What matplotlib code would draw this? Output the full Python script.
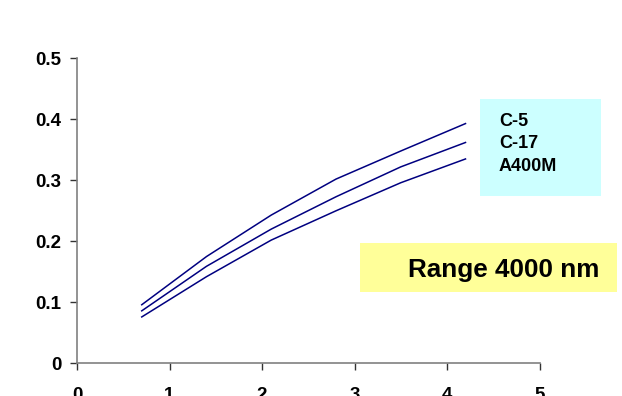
import matplotlib
matplotlib.use("Agg")
import matplotlib.pyplot as plt
from matplotlib.patches import Rectangle

plt.rcParams["font.family"] = ["Liberation Sans", "DejaVu Sans"]
plt.rcParams["font.weight"] = "bold"

# dados
x = [0.7, 1.4, 2.1, 2.8, 3.5, 4.2]
c5 = [0.096, 0.175, 0.243, 0.302, 0.348, 0.393]
c17 = [0.086, 0.159, 0.220, 0.273, 0.322, 0.362]
a400m = [0.076, 0.142, 0.202, 0.250, 0.296, 0.335]
nomes = ["C-5", "C-17", "A400M"]

W, H = 622, 396
fig = plt.figure(figsize=(W / 100, H / 100), dpi=100)
ax = fig.add_axes([77 / W, 1 - 363.3 / H, (539.5 - 77) / W, (363.3 - 58.3) / H])

for serie in (c5, c17, a400m):
    ax.plot(x, serie, color="#000080", linewidth=1.1)

ax.set_xlim(0, 5)
ax.set_ylim(0, 0.5)
ax.set_xticks(range(6))
ax.set_yticks([0, 0.1, 0.2, 0.3, 0.4, 0.5])
ax.set_yticklabels(["0", "0.1", "0.2", "0.3", "0.4", "0.5"])
for s in ("top", "right"):
    ax.spines[s].set_visible(False)
for s in ("left", "bottom"):
    ax.spines[s].set_color("#808080")
    ax.spines[s].set_linewidth(1.2)
ax.tick_params(axis="both", direction="out", length=5, width=1, color="#333333",
               labelsize=13.5)
ax.tick_params(axis="y", pad=6)
ax.tick_params(axis="x", pad=12)
for lbl in ax.get_xticklabels() + ax.get_yticklabels():
    lbl.set_fontweight("bold")

# caixa da legenda
fig.patches.append(Rectangle((480 / W, 1 - 195.7 / H), 120.7 / W, 96.4 / H,
                             transform=fig.transFigure, facecolor="#CCFFFF",
                             edgecolor="none", zorder=0))
for i, nome in enumerate(nomes):
    fig.text(499 / W, 1 - (126 + 22.3 * i) / H, nome, fontsize=13,
             fontweight="bold", va="baseline", ha="left")

# caixa do alcance
fig.patches.append(Rectangle((360 / W, 1 - 291.7 / H), 257 / W, 48.4 / H,
                             transform=fig.transFigure, facecolor="#FFFF99",
                             edgecolor="none", zorder=0))
fig.text(408 / W, 1 - 276.7 / H, "Range 4000 nm", fontsize=18.8,
         fontweight="bold", va="baseline", ha="left")

fig.savefig("out.png", dpi=100)
